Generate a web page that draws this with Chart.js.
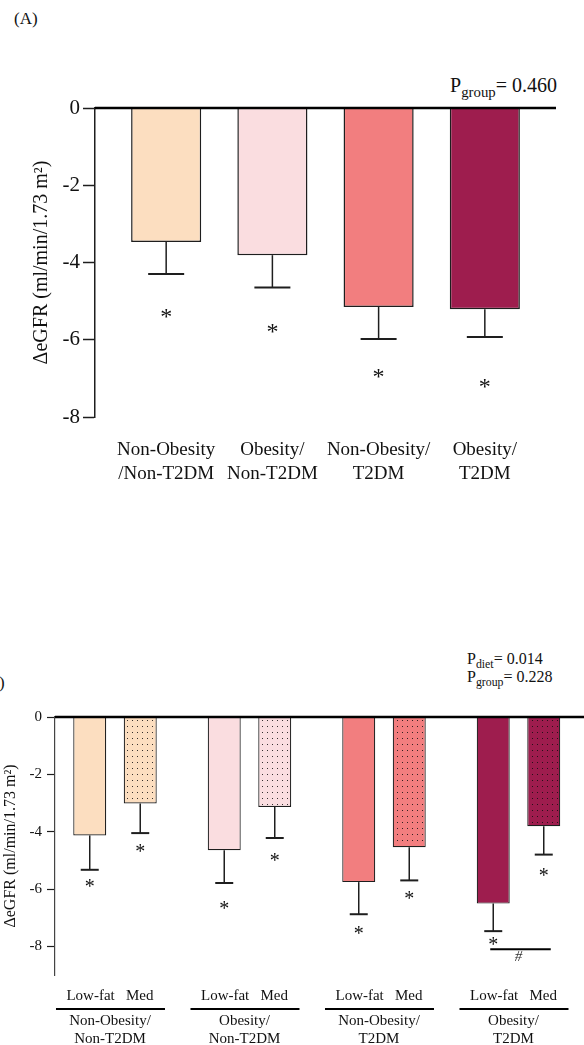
<!DOCTYPE html>
<html>
<head>
<meta charset="utf-8">
<script src="https://cdn.jsdelivr.net/npm/chart.js@4.4.1/dist/chart.umd.min.js"></script>
<style>
  html, body { margin: 0; padding: 0; background: #fff; overflow: hidden; }
  body { width: 584px; height: 1045px; position: relative; font-family: 'Liberation Serif', 'Times New Roman', serif; color: #111; }
  .wrap { position: absolute; left: 0; width: 584px; }
  .note { position: absolute; white-space: nowrap; line-height: 1; }
  .note sub { font-size: 0.74em; vertical-align: -0.35em; line-height: 0; }
</style>
</head>
<body>
<div class="note" style="left:14px;top:10px;font-size:17px">(A)</div>
<div class="note" style="right:27px;top:75px;font-size:20px">P<sub>group</sub>= 0.460</div>
<div class="wrap" style="top:0;height:520px"><canvas id="chartA"></canvas></div>

<div class="note" style="left:-18px;top:674px;font-size:17px">(B)</div>
<div class="note" style="left:467px;top:651px;font-size:16px">P<sub>diet</sub>= 0.014</div>
<div class="note" style="left:467px;top:669px;font-size:16px">P<sub>group</sub>= 0.228</div>
<div class="wrap" style="top:520px;height:525px"><canvas id="chartB"></canvas></div>

<script>
// panel A
var groupsA = [['Non-Obesity', '/Non-T2DM'], ['Obesity/', 'Non-T2DM'], ['Non-Obesity/', 'T2DM'], ['Obesity/', 'T2DM']];
var meanA = [-3.47, -3.81, -5.15, -5.21];
var semA = [0.83, 0.84, 0.83, 0.72];
var starA = [-5.31, -5.70, -6.87, -7.13];
var ticksA = [0, -2, -4, -6, -8];

// panel B
var groupsB = [['Non-Obesity/', 'Non-T2DM'], ['Obesity/', 'Non-T2DM'], ['Non-Obesity/', 'T2DM'], ['Obesity/', 'T2DM']];
var dietsB = ['Low-fat', 'Med'];
var meanLowFat = [-4.13, -4.65, -5.76, -6.51];
var semLowFat = [1.20, 1.14, 1.12, 0.96];
var starLowFat = [-5.79, -6.57, -7.42, -7.82];
var meanMed = [-3.02, -3.14, -4.54, -3.81];
var semMed = [1.03, 1.08, 1.16, 0.99];
var starMed = [-4.57, -4.89, -6.22, -5.41];
var ticksB = [0, -2, -4, -6, -8];
var hashGroup = 3;
var hashAt = [-8.10, -8.39]; // bracket line, '#' sign

var colours = ['#FCDEC0', '#FADDE0', '#F27E7F', '#9E1D4E'];
var serif = "'Liberation Serif', 'Times New Roman', serif";
var ink = '#1e1e1e';

function dots(colour) {
    var c = document.createElement('canvas');
    c.width = 5;
    c.height = 6;
    var g = c.getContext('2d');
    g.fillStyle = colour;
    g.fillRect(0, 0, 5, 6);
    g.fillStyle = 'rgba(15,15,15,0.85)';
    g.fillRect(2, 2, 1, 1);
    return g.createPattern(c, 'repeat');
}

function points(values) {
    return values.map(function (v, i) { return { x: i, y: v }; });
}

function drawStar(ctx, x, y, size) {
    ctx.font = size + 'px ' + serif;
    ctx.textAlign = 'center';
    ctx.textBaseline = 'alphabetic';
    var m = ctx.measureText('*');
    ctx.fillText('*', x, y + (m.actualBoundingBoxAscent - m.actualBoundingBoxDescent) / 2);
}

// error bars, stars and the zero line
var extras = {
    id: 'extras',
    afterDatasetsDraw: function (chart, args, opts) {
        var ctx = chart.ctx, y = chart.scales.y, area = chart.chartArea;
        ctx.save();
        ctx.strokeStyle = ink;
        ctx.fillStyle = '#111';
        chart.data.datasets.forEach(function (ds, i) {
            chart.getDatasetMeta(i).data.forEach(function (bar, j) {
                var end = y.getPixelForValue(ds.data[j].y - ds.sem[j]);
                ctx.lineWidth = 1.5;
                ctx.beginPath();
                ctx.moveTo(bar.x, bar.y);
                ctx.lineTo(bar.x, end);
                ctx.stroke();
                ctx.lineWidth = 2;
                ctx.beginPath();
                ctx.moveTo(bar.x - opts.cap / 2, end);
                ctx.lineTo(bar.x + opts.cap / 2, end);
                ctx.stroke();
                drawStar(ctx, bar.x, y.getPixelForValue(ds.stars[j]), opts.star);
            });
        });
        ctx.strokeStyle = '#000';
        ctx.lineWidth = opts.zero;
        ctx.beginPath();
        ctx.moveTo(area.left, y.getPixelForValue(0));
        ctx.lineTo(area.right, y.getPixelForValue(0));
        ctx.stroke();
        ctx.restore();
    }
};

// diet underlines and the # bracket of panel B
var groupLines = {
    id: 'groupLines',
    afterDraw: function (chart) {
        var ctx = chart.ctx, x = chart.scales.x, y = chart.scales.y;
        ctx.save();
        ctx.strokeStyle = '#000';
        ctx.lineWidth = 2;
        groupsB.forEach(function (g, i) {
            var px = x.getPixelForValue(i);
            ctx.beginPath();
            ctx.moveTo(px - 59, x.bottom + 4);
            ctx.lineTo(px + 50, x.bottom + 4);
            ctx.stroke();
        });
        var lo = chart.getDatasetMeta(0).data[hashGroup];
        var med = chart.getDatasetMeta(1).data[hashGroup];
        ctx.beginPath();
        ctx.moveTo(lo.x - 3, y.getPixelForValue(hashAt[0]));
        ctx.lineTo(med.x + 7, y.getPixelForValue(hashAt[0]));
        ctx.stroke();
        ctx.fillStyle = '#333';
        ctx.font = 'italic 15px ' + serif;
        ctx.textAlign = 'center';
        ctx.textBaseline = 'middle';
        ctx.fillText('#', (lo.x + med.x) / 2, y.getPixelForValue(hashAt[1]));
        ctx.restore();
    }
};

function fixedTicks(list) {
    return function (s) { s.ticks = list.map(function (v) { return { value: v }; }); };
}

new Chart(document.getElementById('chartA'), {
    type: 'bar',
    data: {
        datasets: [{
            data: points(meanA),
            sem: semA,
            stars: starA,
            backgroundColor: colours,
            borderColor: ink,
            borderWidth: 1.5,
            categoryPercentage: 1,
            barPercentage: 0.66
        }]
    },
    options: {
        responsive: true,
        maintainAspectRatio: false,
        animation: false,
        layout: { padding: { top: 108, right: 28, left: 0, bottom: 0 } },
        plugins: {
            legend: { display: false },
            tooltip: { enabled: false },
            extras: { star: 24, cap: 36, zero: 2.5 }
        },
        scales: {
            x: {
                type: 'linear',
                offset: false,
                min: -0.67,
                max: 3.67,
                afterBuildTicks: fixedTicks([0, 1, 2, 3]),
                afterFit: function (s) { s.height = 103; },
                grid: { display: false, drawTicks: false },
                border: { display: false },
                ticks: {
                    autoSkip: false,
                    maxRotation: 0,
                    padding: 21,
                    color: '#111',
                    font: { family: serif, size: 19, lineHeight: 1.25 },
                    callback: function (v) { return groupsA[v]; }
                }
            },
            y: {
                min: -8,
                max: 0,
                afterBuildTicks: fixedTicks(ticksA),
                afterFit: function (s) { s.width = 95; },
                grid: { drawOnChartArea: false, tickLength: 12, tickWidth: 1.5, tickColor: ink },
                border: { color: ink, width: 1.5 },
                ticks: { padding: 3, color: '#111', font: { family: serif, size: 21 } },
                title: {
                    display: true,
                    text: 'ΔeGFR (ml/min/1.73 m²)',
                    color: '#111',
                    font: { family: serif, size: 20, lineHeight: 1.2 },
                    padding: { top: 30, bottom: 0 }
                }
            }
        }
    },
    plugins: [extras]
});

new Chart(document.getElementById('chartB'), {
    type: 'bar',
    data: {
        datasets: [{
            label: dietsB[0],
            data: points(meanLowFat),
            sem: semLowFat,
            stars: starLowFat,
            backgroundColor: colours,
            borderColor: ink,
            borderWidth: 1.2,
            categoryPercentage: 0.751,
            barPercentage: 0.653
        }, {
            label: dietsB[1],
            data: points(meanMed),
            sem: semMed,
            stars: starMed,
            backgroundColor: colours.map(dots),
            borderColor: ink,
            borderWidth: 1.2,
            categoryPercentage: 0.751,
            barPercentage: 0.653
        }]
    },
    options: {
        responsive: true,
        maintainAspectRatio: false,
        animation: false,
        layout: { padding: { top: 197, right: 0, left: 0, bottom: 0 } },
        plugins: {
            legend: { display: false },
            tooltip: { enabled: false },
            extras: { star: 20, cap: 18, zero: 2.5 }
        },
        scales: {
            x: {
                type: 'linear',
                offset: false,
                weight: 0,
                min: -0.446,
                max: 3.487,
                afterBuildTicks: fixedTicks([0, 1, 2, 3]),
                afterFit: function (s) { s.height = 30; },
                grid: { display: false, drawTicks: false },
                border: { display: false },
                ticks: {
                    autoSkip: false,
                    maxRotation: 0,
                    padding: 12,
                    labelOffset: -5,
                    color: '#111',
                    font: { family: serif, size: 15, lineHeight: 1.2 },
                    callback: function () { return dietsB.join('   '); }
                }
            },
            x2: {
                type: 'linear',
                position: 'bottom',
                offset: false,
                weight: 1,
                min: -0.446,
                max: 3.487,
                afterBuildTicks: fixedTicks([0, 1, 2, 3]),
                afterFit: function (s) { s.height = 40; },
                grid: { display: false, drawTicks: false },
                border: { display: false },
                ticks: {
                    autoSkip: false,
                    maxRotation: 0,
                    padding: 7,
                    labelOffset: -5,
                    color: '#111',
                    font: { family: serif, size: 15, lineHeight: 1.2 },
                    callback: function (v) { return groupsB[v]; }
                }
            },
            y: {
                min: -9,
                max: 0,
                afterBuildTicks: fixedTicks(ticksB),
                afterFit: function (s) { s.width = 55; },
                grid: { drawOnChartArea: false, tickLength: 8, tickWidth: 1.2, tickColor: ink },
                border: { color: '#444', width: 1.2 },
                ticks: { padding: 5, color: '#111', font: { family: serif, size: 15 } },
                title: {
                    display: true,
                    text: 'ΔeGFR (ml/min/1.73 m²)',
                    color: '#111',
                    font: { family: serif, size: 16, lineHeight: 1.2 },
                    padding: { top: 1, bottom: 0 }
                }
            }
        }
    },
    plugins: [extras, groupLines]
});
</script>
</body>
</html>
